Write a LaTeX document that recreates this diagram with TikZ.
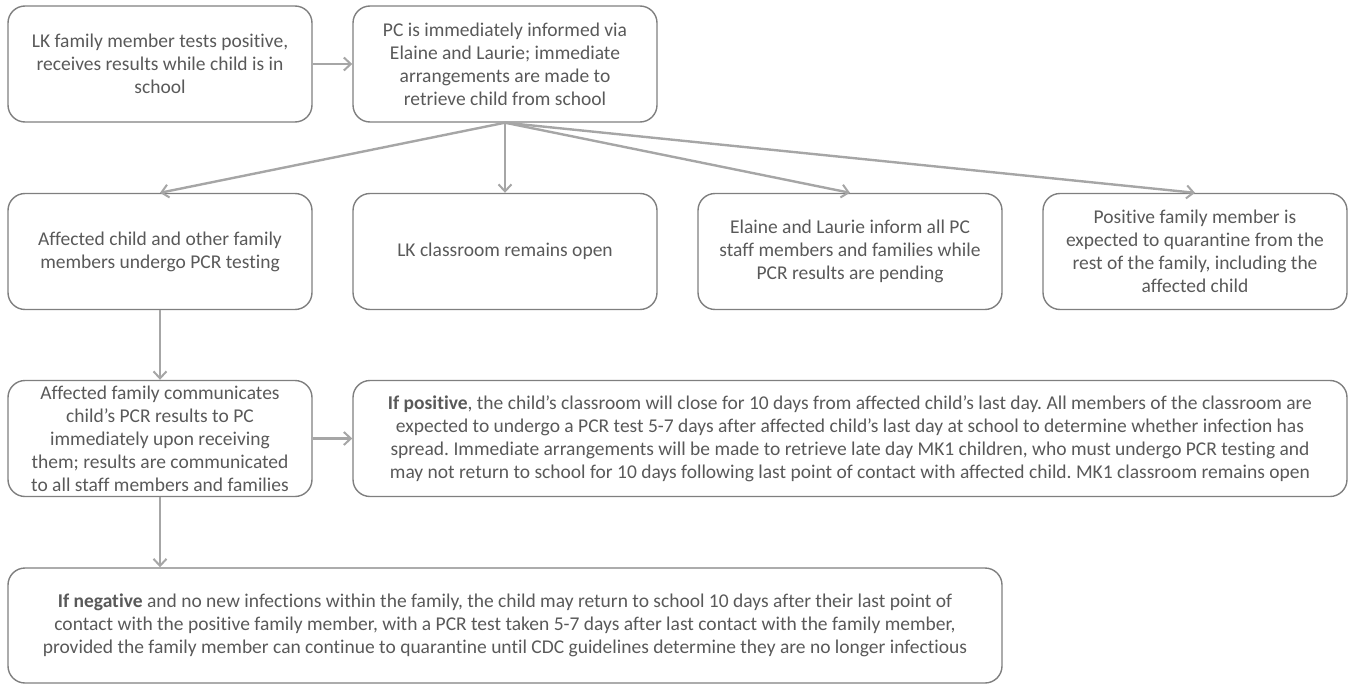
\documentclass[tikz,border=0pt]{standalone}
\usepackage{fontspec}
\setmainfont[Ligatures={NoCommon}]{Carlito}
\usetikzlibrary{arrows.meta}
\definecolor{boxgray}{HTML}{7F7F7F}
\definecolor{txtgray}{HTML}{595959}
\definecolor{arrgray}{HTML}{A6A6A6}
\frenchspacing
\tikzset{
    stepbox/.style={draw=boxgray, line width=1.4pt, rounded corners=17pt, minimum width=304pt, minimum height=116pt, inner sep=2pt, align=center, text=txtgray, font=\fontsize{19.5}{23}\selectfont},
    widebox/.style={stepbox, minimum width=994pt},
    flow/.style={draw=arrgray, line width=2.4pt, -{Straight Barb[length=7pt, width=13pt, line width=2pt]}}
}
\begin{document}
\begin{tikzpicture}[x=1pt, y=-1pt]
            \useasboundingbox (0,0) rectangle (1355,685);
            \node[stepbox] (tested) at (160,64) {LK family member tests positive,\\ receives results while child is in\\ school};
            \node[stepbox] (informed) at (505,64) {PC is immediately informed via\\ Elaine and Laurie; immediate\\ arrangements are made to\\ retrieve child from school};
            \node[stepbox] (pcr) at (160,251.5) {Affected child and other family\\ members undergo PCR testing};
            \node[stepbox] (open) at (505,251.5) {LK classroom remains open};
            \node[stepbox] (inform) at (850,251.5) {Elaine and Laurie inform all PC\\ staff members and families while\\ PCR results are pending};
            \node[stepbox] (quarantine) at (1195,251.5) {Positive family member is\\ expected to quarantine from the\\ rest of the family, including the\\ affected child};
            \node[stepbox] (results) at (160,438.5) {Affected family communicates\\ child’s PCR results to PC\\ immediately upon receiving\\ them; results are communicated\\ to all staff members and families};
            \node[widebox] (positive) at (850,438.5) {\textbf{If positive}, the child’s classroom will close for 10 days from affected child’s last day. All members of the classroom are\\ expected to undergo a PCR test 5-7 days after affected child’s last day at school to determine whether infection has\\ spread. Immediate arrangements will be made to retrieve late day MK1 children, who must undergo PCR testing and\\ may not return to school for 10 days following last point of contact with affected child. MK1 classroom remains open};
            \node[widebox, minimum height=115pt] (negative) at (505,625.5) {\textbf{If negative} and no new infections within the family, the child may return to school 10 days after their last point of\\ contact with the positive family member, with a PCR test taken 5-7 days after last contact with the family member,\\ provided the family member can continue to quarantine until CDC guidelines determine they are no longer infectious};
            \draw[flow] (tested) -- (informed);
            \foreach \n in {pcr, open, inform, quarantine}
                \draw[flow] (informed.south) -- (\n.north);
            \draw[flow] (pcr) -- (results);
            \draw[flow] (results) -- (positive);
            \draw[flow] (results.south) -- (results.south |- negative.north);
        \end{tikzpicture}
\end{document}
